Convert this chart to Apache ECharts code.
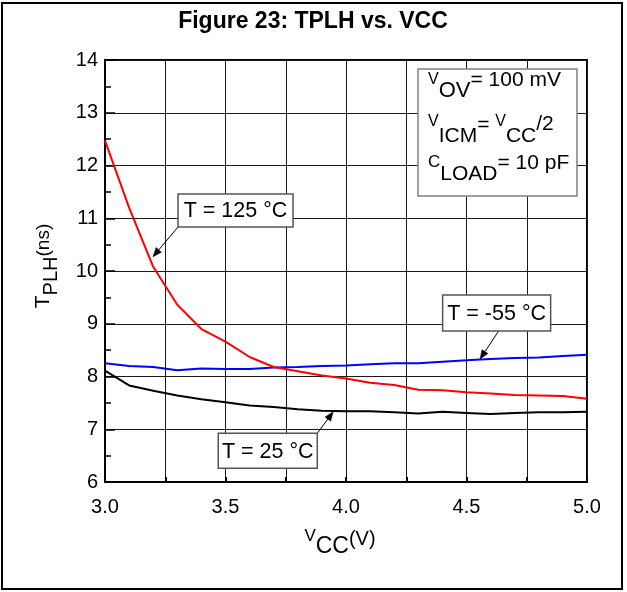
<!DOCTYPE html>
<html>
<head>
<meta charset="utf-8">
<script src="https://cdn.jsdelivr.net/npm/echarts@6/dist/echarts.min.js"></script>
<style>
  html, body { margin: 0; padding: 0; background: #fff; }
  #chart { width: 627px; height: 592px; }
</style>
</head>
<body>
<div id="chart"></div>
<script>
// Supply voltage sweep (V)
const vcc = [3.0, 3.1, 3.2, 3.3, 3.4, 3.5, 3.6, 3.7, 3.8, 3.9, 4.0,
             4.1, 4.2, 4.3, 4.4, 4.5, 4.6, 4.7, 4.8, 4.9, 5.0];
// Propagation delay TPLH (ns) at each temperature
const tplh125 = [12.47, 11.20, 10.08, 9.36, 8.90, 8.66, 8.37, 8.18, 8.10, 8.02, 7.96,
                 7.88, 7.84, 7.75, 7.74, 7.70, 7.68, 7.65, 7.64, 7.63, 7.58];
const tplhM55 = [8.25, 8.20, 8.18, 8.12, 8.15, 8.14, 8.14, 8.17, 8.18, 8.20, 8.21,
                 8.23, 8.25, 8.25, 8.28, 8.31, 8.33, 8.35, 8.36, 8.39, 8.41];
const tplh25  = [8.11, 7.83, 7.73, 7.64, 7.57, 7.51, 7.45, 7.42, 7.38, 7.35, 7.34,
                 7.34, 7.32, 7.30, 7.33, 7.31, 7.29, 7.31, 7.32, 7.32, 7.33];

const xMin = 3.0, xMax = 5.0, xStep = 0.25;
const yMin = 6, yMax = 14, yStep = 1;

const FONT = "'Liberation Sans', Arial, Helvetica, sans-serif";

// Callout labels: anchor in data units, arrow tip in data units
const callouts = [
  { text: 'T = 125 °C', at: [3.303, 11.46], w: 115, h: 33, from: [0, 33],  tip: [3.199, 10.27] },
  { text: 'T = -55 °C', at: [4.401, 9.545], w: 108, h: 36, from: [56, 36], tip: [4.556, 8.33] },
  { text: 'T = 25 °C',  at: [3.470, 6.923], w: 99,  h: 35, from: [99, 0],  tip: [3.947, 7.33] }
];

const mctx = document.createElement('canvas').getContext('2d');
function textW(t, size, weight) {
  mctx.font = (weight || 'normal') + ' ' + size + 'px ' + FONT;
  return mctx.measureText(t).width;
}
// A row of text pieces of different sizes: [text, fontSize, capCentreY]
function row(x0, pieces, align) {
  const widths = pieces.map(p => textW(p[0], p[1]));
  const total = widths.reduce((a, b) => a + b, 0);
  let x = align === 'center' ? x0 - total / 2 : x0;
  return pieces.map((p, i) => {
    const el = {
      type: 'text', x: x, y: p[2], z: 100,
      style: { text: p[0], fontSize: p[1], fontFamily: FONT, fill: '#000',
               textAlign: 'left', textVerticalAlign: 'middle', align: 'left', verticalAlign: 'middle' }
    };
    x += widths[i];
    return el;
  });
}

const chart = echarts.init(document.getElementById('chart'), null, { renderer: 'canvas' });

function seriesOf(name, values, color) {
  return {
    name: name, type: 'line', showSymbol: false, symbol: 'none', smooth: false,
    data: vcc.map((v, i) => [v, values[i]]),
    lineStyle: { color: color, width: 2 }, z: 5
  };
}

chart.setOption({
  animation: false,
  backgroundColor: '#fff',
  grid: { left: 105, top: 60, width: 482, height: 422, show: true, borderColor: '#000', borderWidth: 2, containLabel: false },
  xAxis: {
    type: 'value', min: xMin, max: xMax, interval: xStep,
    axisLine: { show: true, lineStyle: { color: '#000', width: 2 } },
    axisTick: { show: true, inside: true, length: 5, lineStyle: { color: '#000', width: 2 } },
    axisLabel: {
      color: '#000', fontSize: 20, fontFamily: FONT, margin: 15, showMinLabel: true, showMaxLabel: true,
      formatter: v => Math.abs(v * 2 - Math.round(v * 2)) < 1e-6 ? v.toFixed(1) : ''
    },
    splitLine: { show: true, lineStyle: { color: '#1a1a1a', width: 1 } }
  },
  yAxis: {
    type: 'value', min: yMin, max: yMax, interval: yStep,
    axisLine: { show: true, lineStyle: { color: '#000', width: 2 } },
    axisTick: { show: true, inside: true, length: 10, lineStyle: { color: '#000', width: 1.5 } },
    minorTick: { show: true, splitNumber: 2, length: 6, lineStyle: { color: '#000', width: 1.5 } },
    axisLabel: { color: '#000', fontSize: 20, fontFamily: FONT, margin: 7 },
    splitLine: { show: true, lineStyle: { color: '#1a1a1a', width: 1 } }
  },
  series: [
    seriesOf('T = 25 °C', tplh25, '#000000'),
    seriesOf('T = -55 °C', tplhM55, '#0000ff'),
    seriesOf('T = 125 °C', tplh125, '#ff0000')
  ]
});

// Static decorations: outer frame, title, axis titles, conditions box
const graphics = [];
graphics.push({ type: 'rect', shape: { x: 2, y: 3, width: 620, height: 586 },
  style: { fill: 'none', stroke: '#000', lineWidth: 2 }, z: 100 });
graphics.push({ type: 'text', x: 313, y: 22, z: 100,
  style: { text: 'Figure 23: TPLH vs. VCC', fontSize: 23, fontWeight: 'bold', fontFamily: FONT, fill: '#000',
           textAlign: 'center', textVerticalAlign: 'middle', align: 'center', verticalAlign: 'middle' } });

// Y axis title, rotated
graphics.push({ type: 'group', x: 43, y: 266, rotation: Math.PI / 2, z: 100,
  children: row(0, [['T', 21, 0], ['PLH', 20, 8], ['(ns)', 19, 1]], 'center') });

// X axis title
row(340, [['V', 17, 536.5], ['CC', 23, 546.5], ['(V)', 20, 539.5]], 'center').forEach(e => graphics.push(e));

// Test conditions box
graphics.push({ type: 'rect', shape: { x: 418, y: 69, width: 159, height: 127 },
  style: { fill: '#fff', stroke: '#808080', lineWidth: 1.5 }, z: 90 });
row(428, [['V', 16, 80], ['OV', 22, 91], ['= 100 mV', 21, 80]]).forEach(e => graphics.push(e));
row(428, [['V', 16, 122], ['ICM', 21, 136], ['= ', 21, 125], ['V', 16, 122], ['CC', 21, 136], ['/2', 21, 124]]).forEach(e => graphics.push(e));
row(428, [['C', 17, 162], ['LOAD', 21, 174], ['= 10 pF', 21, 163]]).forEach(e => graphics.push(e));

// Callouts with arrows, placed through the grid's coordinate system
callouts.forEach(c => {
  const p = chart.convertToPixel({ gridIndex: 0 }, c.at);
  const tip = chart.convertToPixel({ gridIndex: 0 }, c.tip);
  const bx = p[0], by = p[1];
  const sx = bx + c.from[0], sy = by + c.from[1];
  const dx = tip[0] - sx, dy = tip[1] - sy;
  const len = Math.sqrt(dx * dx + dy * dy);
  const ux = dx / len, uy = dy / len;
  const hl = 9, hw = 3.5;
  const baseX = tip[0] - ux * hl, baseY = tip[1] - uy * hl;
  graphics.push({ type: 'line', z: 95,
    shape: { x1: sx, y1: sy, x2: baseX, y2: baseY },
    style: { stroke: '#000', lineWidth: 1 } });
  graphics.push({ type: 'polygon', z: 95,
    shape: { points: [[tip[0], tip[1]], [baseX - uy * hw, baseY + ux * hw], [baseX + uy * hw, baseY - ux * hw]] },
    style: { fill: '#000', stroke: '#000', lineWidth: 0.5 } });
  graphics.push({ type: 'rect', z: 96,
    shape: { x: bx, y: by, width: c.w, height: c.h },
    style: { fill: '#fff', stroke: '#555', lineWidth: 1.5 } });
  graphics.push({ type: 'text', z: 97, x: bx + c.w / 2, y: by + c.h / 2 + 1,
    style: { text: c.text, fontSize: 21.5, fontFamily: FONT, fill: '#000',
             textAlign: 'center', textVerticalAlign: 'middle', align: 'center', verticalAlign: 'middle' } });
});

chart.setOption({ graphic: graphics });
</script>
</body>
</html>
